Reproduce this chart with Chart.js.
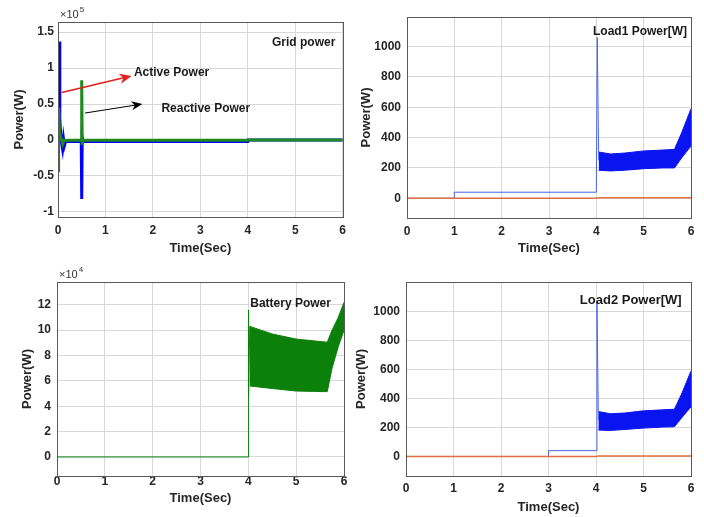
<!DOCTYPE html>
<html>
<head>
<meta charset="utf-8">
<title>Power waveforms</title>
<script src="https://cdn.jsdelivr.net/npm/chart.js@4.4.0/dist/chart.umd.min.js"></script>
<style>
  body { margin: 0; background: #fff; }
  #wrap { position: relative; width: 704px; height: 517px; }
  .cell { position: absolute; }
</style>
</head>
<body>
<div id="wrap">
  <div class="cell" style="left:0;top:0"><canvas id="grid" width="352" height="258"></canvas></div>
  <div class="cell" style="left:352px;top:0"><canvas id="load1" width="352" height="258"></canvas></div>
  <div class="cell" style="left:0;top:258px"><canvas id="battery" width="352" height="259"></canvas></div>
  <div class="cell" style="left:352px;top:258px"><canvas id="load2" width="352" height="259"></canvas></div>
</div>
<script>
// ========== Data ==========
const timeTicks = [0, 1, 2, 3, 4, 5, 6];

// grid power, in units of 1e5 W
const gridTicks = [-1, -0.5, 0, 0.5, 1, 1.5];
const activeT = [0, 0.012, 0.025, 0.038, 0.055, 0.075, 0.095, 0.115, 0.135, 0.16, 0.2, 0.49, 0.5, 0.51, 0.53, 4.0, 4.01, 6];
const activeP = [0, 0.1, 1.37, 0.3, 0.08, -0.04, -0.12, 0.02, -0.08, -0.02, -0.02, -0.02, -0.82, 0.04, -0.02, -0.02, 0, 0];
const reactiveT = [0, 0.008, 0.018, 0.03, 0.05, 0.08, 0.1, 0.13, 0.2, 0.49, 0.5, 0.51, 0.52, 4.0, 4.01, 6];
const reactiveQ = [0, -0.45, 0.45, 0.12, 0.05, 0.0, -0.05, 0.0, -0.005, -0.005, 0.83, -0.05, -0.005, -0.005, 0, 0];

// load powers, W
const loadTicks = [0, 200, 400, 600, 800, 1000];
const load1T = [0, 1, 1, 4.0, 4.02, 4.05];
const load1P = [0, 0, 40, 40, 1060, 250];
const load2T = [0, 3, 3, 4.0, 4.02, 4.05];
const load2P = [0, 0, 40, 40, 1070, 250];
const loadBandT = [4.05, 4.3, 4.6, 5.0, 5.4, 5.65, 5.8, 5.9, 6.0];
const load1Upper = [305, 292, 298, 312, 318, 322, 430, 510, 590];
const load1Lower = [185, 180, 185, 195, 200, 200, 265, 305, 345];
const load2Upper = [310, 295, 300, 315, 322, 326, 430, 510, 590];
const load2Lower = [182, 180, 186, 196, 203, 205, 265, 305, 342];
const loadRefT = [0, 4.0, 4.05, 6];
const loadRefP = [0, 0, 4, 4];

// battery power, in units of 1e4 W
const batteryTicks = [0, 2, 4, 6, 8, 10, 12];
const batteryT = [0, 4.0, 4.0, 4.01, 4.03];
const batteryP = [0, 0, 11.6, 4.8, 10.3];
const batteryBandT = [4.03, 4.5, 5.0, 5.65, 5.75, 5.88, 6.0];
const batteryUpper = [10.3, 9.7, 9.3, 9.05, 10.0, 11.0, 12.2];
const batteryLower = [5.6, 5.4, 5.2, 5.15, 7.0, 8.7, 10.0];

// ========== Helpers ==========
const FONT = 'Liberation Sans, Arial, sans-serif';
const TEXT = '#262626';

function pts(t, v) {
  return t.map((x, i) => ({ x: x, y: v[i] }));
}

function line(t, v, color, width) {
  return { data: pts(t, v), borderColor: color, borderWidth: width, pointRadius: 0, fill: false, tension: 0 };
}

function band(t, v, color, fill) {
  return { data: pts(t, v), borderColor: color, backgroundColor: color, borderWidth: 1, pointRadius: 0, fill: fill, tension: 0 };
}

// box around the plot + text notes, arrows and exponent label
const frameNotes = {
  id: 'frameNotes',
  afterDraw(chart, args, opts) {
    const ctx = chart.ctx;
    const a = chart.chartArea;
    const sx = chart.scales.x, sy = chart.scales.y;
    ctx.save();
    ctx.strokeStyle = '#5a5a5a';
    ctx.lineWidth = 1;
    ctx.strokeRect(Math.round(a.left) + 0.5, Math.round(a.top) + 0.5,
      Math.round(a.right - a.left), Math.round(a.bottom - a.top));

    (opts.arrows || []).forEach(r => {
      const x1 = sx.getPixelForValue(r.x1), y1 = sy.getPixelForValue(r.y1);
      const x2 = sx.getPixelForValue(r.x2), y2 = sy.getPixelForValue(r.y2);
      const ang = Math.atan2(y2 - y1, x2 - x1);
      ctx.strokeStyle = r.color;
      ctx.fillStyle = r.color;
      ctx.lineWidth = r.width;
      ctx.beginPath();
      ctx.moveTo(x1, y1);
      ctx.lineTo(x2 - Math.cos(ang) * 6, y2 - Math.sin(ang) * 6);
      ctx.stroke();
      ctx.beginPath();
      ctx.moveTo(x2, y2);
      ctx.lineTo(x2 - Math.cos(ang) * r.head - Math.sin(ang) * r.head * 0.42,
                 y2 - Math.sin(ang) * r.head + Math.cos(ang) * r.head * 0.42);
      ctx.lineTo(x2 - Math.cos(ang) * r.head * 0.7, y2 - Math.sin(ang) * r.head * 0.7);
      ctx.lineTo(x2 - Math.cos(ang) * r.head + Math.sin(ang) * r.head * 0.42,
                 y2 - Math.sin(ang) * r.head - Math.cos(ang) * r.head * 0.42);
      ctx.closePath();
      ctx.fill();
    });

    ctx.textBaseline = 'middle';
    ctx.textAlign = 'left';
    (opts.texts || []).forEach(t => {
      ctx.fillStyle = '#1a1a1a';
      ctx.font = 'bold ' + t.size + 'px ' + FONT;
      ctx.fillText(t.text, sx.getPixelForValue(t.x), sy.getPixelForValue(t.y));
    });

    if (opts.exp) {
      ctx.fillStyle = '#333';
      ctx.textBaseline = 'alphabetic';
      ctx.font = '11px ' + FONT;
      const x0 = a.left + 2, y0 = a.top - 4;
      ctx.fillText('\u00d710', x0, y0);
      const w = ctx.measureText('\u00d710').width;
      ctx.font = '8px ' + FONT;
      ctx.fillText(opts.exp, x0 + w + 1, y0 - 6);
    }
    ctx.restore();
  }
};

function makeChart(id, c) {
  const tickFont = { family: FONT, size: 12, weight: 'bold' };
  const titleFont = { family: FONT, size: 13, weight: 'bold' };
  return new Chart(document.getElementById(id), {
    type: 'line',
    data: { datasets: c.datasets },
    options: {
      responsive: false,
      animation: false,
      events: [],
      layout: { padding: c.pad },
      plugins: {
        legend: { display: false },
        tooltip: { enabled: false },
        frameNotes: c.notes
      },
      scales: {
        x: {
          type: 'linear', min: 0, max: 6,
          afterBuildTicks: s => { s.ticks = timeTicks.map(v => ({ value: v })); },
          afterFit: s => { s.height = c.xH; },
          grid: { color: '#d8d8d8', drawTicks: false },
          border: { display: false },
          ticks: { padding: c.xPad, color: TEXT, font: tickFont, maxRotation: 0, autoSkip: false },
          title: { display: true, text: 'Time(Sec)', color: TEXT, font: titleFont, padding: 0 }
        },
        y: {
          type: 'linear', min: c.yMin, max: c.yMax,
          afterBuildTicks: s => { s.ticks = c.yTicks.map(v => ({ value: v })); },
          afterFit: s => { s.width = c.yW; },
          grid: { color: '#d8d8d8', drawTicks: false },
          border: { display: false },
          ticks: { padding: c.yPad, color: TEXT, font: tickFont, autoSkip: false, callback: v => String(v) },
          title: { display: true, text: 'Power(W)', color: TEXT, font: titleFont, padding: { top: c.tPad, bottom: 0 } }
        }
      }
    },
    plugins: [frameNotes]
  });
}

// ========== Charts ==========
makeChart('grid', {
  datasets: [
    line(reactiveT, reactiveQ, '#1e8a1e', 3),
    line(activeT, activeP, '#0000ff', 3)
  ],
  yMin: -1.07, yMax: 1.64, yTicks: gridTicks,
  pad: { left: 8, top: 22, right: 8, bottom: 2 }, yW: 50, xH: 39, xPad: 6, yPad: 4, tPad: 4,
  notes: {
    exp: '5',
    texts: [
      { text: 'Grid power', x: 4.51, y: 1.35, size: 12 },
      { text: 'Active Power', x: 1.6, y: 0.93, size: 12 },
      { text: 'Reactive Power', x: 2.18, y: 0.43, size: 12 }
    ],
    arrows: [
      { x1: 0.08, y1: 0.66, x2: 1.55, y2: 0.89, color: '#e41e1e', width: 1.5, head: 12 },
      { x1: 0.57, y1: 0.375, x2: 1.78, y2: 0.5, color: '#000', width: 1, head: 11 }
    ]
  }
});

makeChart('load1', {
  datasets: [
    line(loadRefT, loadRefP, '#e0703c', 1.5),
    line(load1T, load1P, '#4a63f0', 1),
    band(loadBandT, load1Upper, '#0a14f0', '+1'),
    band(loadBandT, load1Lower, '#0a14f0', false)
  ],
  yMin: -130, yMax: 1195, yTicks: loadTicks,
  pad: { left: 4, top: 17, right: 13, bottom: 2 }, yW: 51, xH: 38, xPad: 6, yPad: 6, tPad: 3,
  notes: { texts: [{ text: 'Load1 Power[W]', x: 3.93, y: 1096, size: 12 }] }
});

makeChart('battery', {
  datasets: [
    line(batteryT, batteryP, '#0b800b', 1),
    band(batteryBandT, batteryUpper, '#0b800b', '+1'),
    band(batteryBandT, batteryLower, '#0b800b', false)
  ],
  yMin: -1.5, yMax: 13.8, yTicks: batteryTicks,
  pad: { left: 16, top: 24, right: 8, bottom: 11 }, yW: 41, xH: 30, xPad: -2, yPad: 6, tPad: 4,
  notes: {
    exp: '4',
    texts: [{ text: 'Battery Power', x: 4.04, y: 12.1, size: 12 }]
  }
});

makeChart('load2', {
  datasets: [
    line(loadRefT, loadRefP, '#e0703c', 1.5),
    line(load2T, load2P, '#4a63f0', 1),
    band(loadBandT, load2Upper, '#0a14f0', '+1'),
    band(loadBandT, load2Lower, '#0a14f0', false)
  ],
  yMin: -135, yMax: 1205, yTicks: loadTicks,
  pad: { left: 0, top: 24, right: 13, bottom: 2 }, yW: 54, xH: 39, xPad: 5, yPad: 6, tPad: 2,
  notes: { texts: [{ text: 'Load2 Power[W]', x: 3.66, y: 1076, size: 13 }] }
});
</script>
</body>
</html>
